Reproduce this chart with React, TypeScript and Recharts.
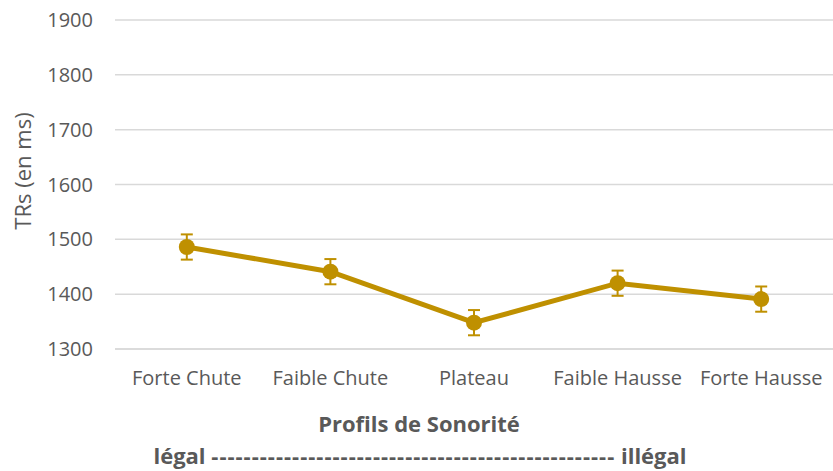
import React from 'react';
import { LineChart, Line, XAxis, YAxis, CartesianGrid, ErrorBar } from 'recharts';

const profiles = ['Forte Chute', 'Faible Chute', 'Plateau', 'Faible Hausse', 'Forte Hausse'];
const rtMeans = [1486, 1441, 1348, 1420, 1391];
const rtErrors = [23, 23, 23, 23, 23];
const yTicks = [1300, 1400, 1500, 1600, 1700, 1800, 1900];

const data = profiles.map((name, i) => ({ name, rt: rtMeans[i], err: rtErrors[i] }));

const TEXT = '#595959';
const GOLD = '#BF9000';
const FONT = '"Open Sans", sans-serif';

export default function App() {
  return (
    <div style={{ position: 'absolute', left: 0, top: 0, width: 833, height: 471, background: '#fff', fontFamily: FONT }}>
      <LineChart width={833} height={471} data={data} margin={{ top: 20, right: 0, bottom: 92, left: 0 }}>
        <CartesianGrid vertical={false} stroke="#d9d9d9" strokeWidth={1.5} />
        <XAxis
          dataKey="name"
          scale="band"
          axisLine={{ stroke: '#d9d9d9', strokeWidth: 1.5 }}
          tickLine={false}
          tickMargin={16}
          interval={0}
          tick={{ fill: TEXT, fontSize: 20, fontFamily: FONT }}
        />
        <YAxis
          domain={[1300, 1900]}
          ticks={yTicks}
          width={115}
          axisLine={false}
          tickLine={false}
          tickMargin={16}
          tick={{ fill: TEXT, fontSize: 20, fontFamily: FONT }}
        />
        <Line
          dataKey="rt"
          stroke={GOLD}
          strokeWidth={5}
          dot={{ r: 8, fill: GOLD, stroke: GOLD, strokeWidth: 0 }}
          activeDot={false}
          isAnimationActive={false}
        >
          <ErrorBar dataKey="err" width={6} stroke={GOLD} strokeWidth={2} direction="y" />
        </Line>
      </LineChart>
      <div
        style={{
          position: 'absolute', left: 22, top: 171, transform: 'translate(-50%, -50%) rotate(-90deg)',
          color: TEXT, fontSize: 22, whiteSpace: 'nowrap',
        }}
      >
        TRs (en ms)
      </div>
      <div
        style={{
          position: 'absolute', left: 419, top: 423, transform: 'translate(-50%, -50%)',
          color: TEXT, fontSize: 22, fontWeight: 700, whiteSpace: 'nowrap',
        }}
      >
        Profils de Sonorité
      </div>
      <div
        style={{
          position: 'absolute', left: 420, top: 455, transform: 'translate(-50%, -50%)',
          color: TEXT, fontSize: 22, fontWeight: 700, whiteSpace: 'nowrap',
        }}
      >
        légal <span style={{ letterSpacing: 1 }}>--------------------------------------------------</span> illégal
      </div>
    </div>
  );
}
